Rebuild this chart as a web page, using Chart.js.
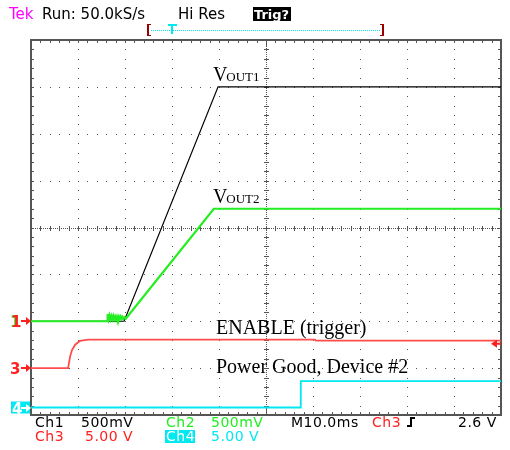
<!DOCTYPE html>
<html>
<head>
<meta charset="utf-8">
<script src="https://cdn.jsdelivr.net/npm/chart.js"></script>
<style>
  body { margin: 0; background: #ffffff; }
  #scope { display: block; }
</style>
</head>
<body>
<canvas id="scope" width="510" height="450"></canvas>
<script>
// tempi in ms dal bordo sinistro dello schermo, tensioni in volt
var ch1Time = [0, 19.8, 39.8, 100];
var ch1Volts = [0, 0, 2.5, 2.5];

var ch2Time = [0, 16.2, 16.3, 16.5, 16.7, 16.9, 17.1, 17.3, 17.5, 17.7, 17.9, 18.1, 18.3, 18.5, 18.7, 18.9, 19.1, 19.3, 19.5, 19.7, 19.9, 20.2, 38.9, 100];
var ch2Volts = [0, 0, 0.075, 0.02, 0.06, 0.02, 0.055, 0.02, 0.055, 0.02, 0.05, 0.02, 0.05, 0.02, 0.05, 0.025, 0.05, 0.025, 0.045, 0.025, 0.04, 0.03, 1.2, 1.2];

var ch3Time = [0, 7.9, 8.3, 8.7, 9.4, 10.4, 12.2, 60.4, 60.6, 100];
var ch3Volts = [0, 0, 1.2, 1.9, 2.5, 2.9, 3.05, 3.05, 2.93, 2.93];

var ch4Time = [0, 57.4, 57.4, 100];
var ch4Volts = [0, 0, 2.82, 2.82];

// impostazioni dei canali: volt per divisione e posizione dello zero (in divisioni)
var channels = [
    { name: 'Ch1', time: ch1Time, volts: ch1Volts, perDiv: 0.5, offset: -2, color: '#000000', width: 1.2 },
    { name: 'Ch2', time: ch2Time, volts: ch2Volts, perDiv: 0.5, offset: -2, color: '#22ee22', width: 2.2 },
    { name: 'Ch3', time: ch3Time, volts: ch3Volts, perDiv: 5, offset: -3, color: '#ff4d4d', width: 1.8 },
    { name: 'Ch4', time: ch4Time, volts: ch4Volts, perDiv: 5, offset: -3.84, color: '#00e8f0', width: 1.8 }
];
var triggerLevel = 2.6;

var labelTexts = [
    { text: 'V', sub: 'OUT1', t: 38.7, v: 2.5, ch: 0 },
    { text: 'V', sub: 'OUT2', t: 38.7, v: 1.2, ch: 1 }
];
var noteTexts = ['ENABLE (trigger)', 'Power Good, Device #2'];

// costruisce i dataset per Chart.js
function buildDatasets() {
    return channels.map(function (ch, i) {
        return {
            label: ch.name,
            data: ch.time.map(function (t, k) {
                return { x: t, y: ch.offset + ch.volts[k] / ch.perDiv };
            }),
            borderColor: ch.color,
            borderWidth: ch.width,
            pointRadius: 0,
            tension: 0,
            fill: false,
            order: 3 - i
        };
    });
}

// griglia dell'oscilloscopio
var gridPlugin = {
    id: 'scopeGrid',
    beforeDatasetsDraw: function (chart) {
        var ctx = chart.ctx;
        var a = chart.chartArea;
        var divX = (a.right - a.left) / 10;
        var divY = (a.bottom - a.top) / 8;
        var cx = a.left + divX * 5;
        var cy = a.top + divY * 4;
        ctx.save();
        ctx.fillStyle = '#555555';
        // linee tratteggiate delle divisioni
        for (var i = 1; i < 10; i++) {
            var x = Math.round(a.left + divX * i);
            if (i === 5) continue;
            for (var j = 1; j < 40; j++) {
                ctx.fillRect(x, Math.round(a.top + divY * j / 5), 1, 1);
            }
        }
        for (var i = 1; i < 8; i++) {
            var y = Math.round(a.top + divY * i);
            if (i === 4) continue;
            for (var j = 1; j < 50; j++) {
                ctx.fillRect(Math.round(a.left + divX * j / 5), y, 1, 1);
            }
        }
        // assi centrali con tacche
        for (var y = a.top; y < a.bottom; y += 2) ctx.fillRect(Math.round(cx), y, 1, 1);
        for (var x = a.left; x < a.right; x += 2) ctx.fillRect(x, Math.round(cy), 1, 1);
        for (var j = 1; j < 40; j++) {
            var y = Math.round(a.top + divY * j / 5);
            ctx.fillRect(Math.round(cx) - 2, y, 5, 1);
            ctx.fillRect(a.left, y, 3, 1);
            ctx.fillRect(a.right - 3, y, 3, 1);
        }
        for (var j = 1; j < 50; j++) {
            var x = Math.round(a.left + divX * j / 5);
            ctx.fillRect(x, Math.round(cy) - 2, 1, 5);
            ctx.fillRect(x, a.top, 1, 3);
            ctx.fillRect(x, a.bottom - 3, 1, 3);
        }
        ctx.fillRect(Math.round(cx), a.top, 1, 7);
        ctx.fillRect(Math.round(cx), a.bottom - 7, 1, 7);
        // cornice
        ctx.strokeStyle = '#555555';
        ctx.lineWidth = 2;
        ctx.strokeRect(a.left, a.top, a.right - a.left, a.bottom - a.top);
        ctx.restore();
    }
};

// testi dello schermo e annotazioni
var textPlugin = {
    id: 'scopeText',
    afterDraw: function (chart) {
        var ctx = chart.ctx;
        var xs = chart.scales.x;
        var ys = chart.scales.y;
        ctx.save();
        ctx.textBaseline = 'alphabetic';

        // intestazione
        ctx.font = '15px "DejaVu Sans"';
        ctx.fillStyle = '#ff00ff';
        ctx.fillText('Tek', 9, 19);
        ctx.fillStyle = '#000000';
        ctx.fillText('Run: 50.0kS/s', 42, 19);
        ctx.fillText('Hi Res', 178, 19);
        ctx.fillRect(253, 7, 38, 14);
        ctx.fillStyle = '#ffffff';
        ctx.font = 'bold 13px "DejaVu Sans"';
        ctx.fillText('Trig?', 254, 19);

        // barra della memoria
        ctx.fillStyle = '#9b0000';
        ctx.fillRect(147, 24, 2, 12);
        ctx.fillRect(147, 24, 4, 1);
        ctx.fillRect(147, 35, 4, 1);
        ctx.fillRect(382, 24, 2, 12);
        ctx.fillRect(380, 24, 4, 1);
        ctx.fillRect(380, 35, 4, 1);
        ctx.fillStyle = '#00e8f0';
        for (var x = 151; x < 381; x += 2) ctx.fillRect(x, 30, 1, 1);
        ctx.fillRect(168, 24, 9, 2);
        ctx.fillRect(171, 24, 2, 10);

        // marcatori dei canali a sinistra
        ctx.font = 'bold 15px "DejaVu Sans"';
        var y1 = ys.getPixelForValue(channels[0].offset);
        ctx.fillStyle = '#22ee22';
        ctx.fillText('1', 10, y1 + 6);
        ctx.fillStyle = '#ff2020';
        ctx.fillText('1', 11, y1 + 6);
        drawArrow(ctx, 21, y1, '#ff2020');
        var y3 = ys.getPixelForValue(channels[2].offset);
        ctx.fillStyle = '#ff2020';
        ctx.fillText('3', 10, y3 + 6);
        drawArrow(ctx, 21, y3, '#ff2020');
        var y4 = ys.getPixelForValue(channels[3].offset);
        ctx.fillStyle = '#00e8f0';
        ctx.fillRect(11, y4 - 6, 19, 12);
        ctx.fillStyle = '#ffffff';
        ctx.fillText('4', 12, y4 + 6);
        drawArrow(ctx, 21, y4, '#ffffff');

        // livello di trigger
        var yt = ys.getPixelForValue(channels[2].offset + triggerLevel / channels[2].perDiv);
        ctx.fillStyle = '#ff2020';
        ctx.beginPath();
        ctx.moveTo(491, yt);
        ctx.lineTo(497, yt - 4);
        ctx.lineTo(497, yt + 4);
        ctx.closePath();
        ctx.fill();
        ctx.fillRect(496, yt - 1, 5, 2);

        // etichette VOUT
        labelTexts.forEach(function (l) {
            var ch = channels[l.ch];
            var px = xs.getPixelForValue(l.t);
            var py = ys.getPixelForValue(ch.offset + l.v / ch.perDiv);
            ctx.fillStyle = '#000000';
            ctx.font = '20px "Liberation Serif"';
            ctx.fillText(l.text, px, py - 6);
            var w = ctx.measureText(l.text).width;
            ctx.font = '13px "Liberation Serif"';
            ctx.fillText(l.sub, px + w - 1, py - 6);
        });
        ctx.font = '20px "Liberation Serif"';
        ctx.fillText(noteTexts[0], 216, 334);
        ctx.fillText(noteTexts[1], 216, 373);

        // riga inferiore
        ctx.font = '14px "DejaVu Sans"';
        ctx.letterSpacing = '0.5px';
        ctx.fillStyle = '#000000';
        ctx.fillText('Ch1', 35, 427);
        ctx.fillText('500mV', 81, 427);
        ctx.fillText('M10.0ms', 291, 427);
        ctx.fillText('2.6 V', 458, 427);
        ctx.fillStyle = '#22ee22';
        ctx.fillText('Ch2', 166, 427);
        ctx.fillText('500mV', 211, 427);
        ctx.fillStyle = '#ff2020';
        ctx.fillText('Ch3', 372, 427);
        ctx.fillText('Ch3', 35, 441);
        ctx.fillText('5.00 V', 85, 441);
        ctx.fillStyle = '#00e8f0';
        ctx.fillRect(165, 430, 30, 13);
        ctx.fillText('5.00 V', 211, 441);
        ctx.fillStyle = '#ffffff';
        ctx.fillText('Ch4', 166, 441);
        // simbolo fronte di salita
        ctx.fillStyle = '#000000';
        ctx.fillRect(407, 425, 4, 2);
        ctx.fillRect(410, 417, 2, 10);
        ctx.fillRect(410, 417, 5, 2);
        ctx.restore();
    }
};

function drawArrow(ctx, x, y, color) {
    ctx.fillStyle = color;
    ctx.fillRect(x, Math.round(y) - 1, 7, 2);
    ctx.beginPath();
    ctx.moveTo(x + 10, Math.round(y));
    ctx.lineTo(x + 5, Math.round(y) - 4);
    ctx.lineTo(x + 5, Math.round(y) + 4);
    ctx.closePath();
    ctx.fill();
}

var scopeChart = new Chart(document.getElementById('scope'), {
    type: 'line',
    data: { datasets: buildDatasets() },
    options: {
        responsive: false,
        animation: false,
        layout: { padding: { left: 31, top: 40, right: 9, bottom: 35 } },
        plugins: {
            legend: { display: false },
            tooltip: { enabled: false }
        },
        scales: {
            x: { type: 'linear', min: 0, max: 100, display: false },
            y: { type: 'linear', min: -4, max: 4, display: false }
        }
    },
    plugins: [gridPlugin, textPlugin]
});
</script>
</body>
</html>
